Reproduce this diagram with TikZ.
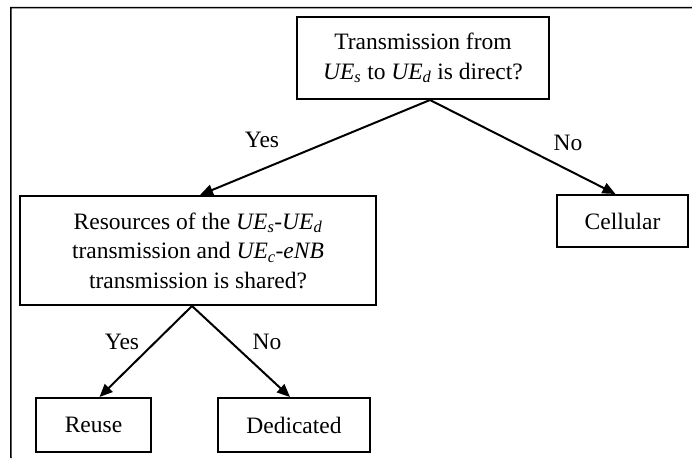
\documentclass[tikz,border=0pt]{standalone}
\usepackage{fontspec}
\setmainfont{Liberation Serif}
\usetikzlibrary{arrows.meta}
\newcommand\myue[1]{\textit{UE}\textsubscript{\textit{#1}}}
\begin{document}
\begin{tikzpicture}[x=1pt,y=-1pt,
  box/.style={draw,line width=2pt,rectangle,inner sep=0pt,align=center,
    font=\fontsize{23.5}{29.5}\selectfont},
  lbl/.style={font=\fontsize{23.5}{29.5}\selectfont,inner sep=0pt},
  arr/.style={line width=2pt,-{Triangle[length=13pt,width=11pt]}},
  frame/.style={line width=1.5pt}]
\useasboundingbox (0,0) rectangle (692,458);
\fill[white] (0,0) rectangle (692,458);
\coordinate (f1) at (10,7.5);
\coordinate (f2) at (692,7.5);
\coordinate (f3) at (11,458);
\draw[frame] (f2) -- (f1) -- (10.75,7.5) -- (f3);
\node[box,minimum width=252pt,minimum height=82pt] (top) at (423,58)
  {Transmission from\\ \myue{s} to \myue{d} is direct?};
\node[box,minimum width=356pt,minimum height=109pt] (mid) at (198,250.5)
  {Resources of the \myue{s}-\myue{d}\\ transmission and \myue{c}-\textit{eNB}\\ transmission is shared?};
\node[box,minimum width=131pt,minimum height=52pt] (cell) at (622.5,221) {Cellular};
\node[box,minimum width=115pt,minimum height=54pt] (reuse) at (93.5,425) {Reuse};
\node[box,minimum width=152pt,minimum height=54pt] (ded) at (294,425) {Dedicated};
\draw[arr] ([xshift=7pt]top.south) -- ([xshift=2pt]mid.north);
\draw[arr] ([xshift=7pt]top.south) -- ([xshift=-7pt]cell.north);
\draw[arr] ([xshift=-6pt]mid.south) -- ([xshift=6pt]reuse.north);
\draw[arr] ([xshift=-6pt]mid.south) -- ([xshift=-4pt]ded.north);
\node[lbl] (y1) at (262,140) {Yes};
\node[lbl] (n1) at (568,143) {No};
\node[lbl] (y2) at (122,342) {Yes};
\node[lbl] (n2) at (267,342) {No};
\end{tikzpicture}
\end{document}
